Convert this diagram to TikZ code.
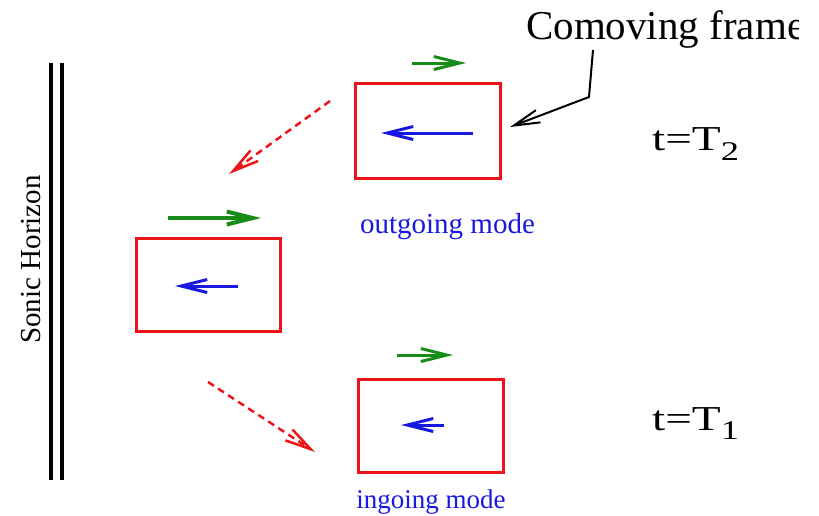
\documentclass[tikz,border=0pt]{standalone}
\usepackage{fontspec}
\setmainfont{Liberation Serif}
\usetikzlibrary{arrows.meta}
\definecolor{figred}{RGB}{236,20,24}
\definecolor{figgreen}{RGB}{24,140,24}
\definecolor{figblue}{RGB}{24,24,225}

\begin{document}
\begin{tikzpicture}[x=1pt,y=-1pt,
  frame/.style={draw=figred, line width=3pt, inner sep=0pt, outer sep=0pt},
  barb/.style={-{Straight Barb[length=26pt,width=13pt]}},
  flow/.style={barb, figgreen, line width=3pt},
  wave/.style={barb, figblue, line width=3pt},
  trajectory/.style={barb, figred, line width=2.5pt, dash pattern=on 7pt off 5pt},
  leader/.style={barb, black, line width=2pt},
  modelabel/.style={text=figblue, anchor=base, inner sep=0pt},
  timelabel/.style={anchor=base west, inner sep=0pt, font=\fontsize{35}{35}\selectfont}
]
\useasboundingbox (0,0) rectangle (819,515);

% sonic horizon: double vertical line
\draw[line width=4pt] (51,63) -- (51,480);
\draw[line width=4pt] (62,63) -- (62,480);
\node[rotate=90, anchor=base, inner sep=0pt, font=\fontsize{29}{29}\selectfont] (horizon) at (40,259.5) {Sonic Horizon};

% comoving frames at the three stages
\node[frame, minimum width=145pt, minimum height=95pt] (late) at (427.5,130.5) {};
\node[frame, minimum width=144pt, minimum height=93pt] (mid) at (208,284.5) {};
\node[frame, minimum width=145pt, minimum height=93pt] (early) at (430.5,425.5) {};

% flow velocity (green) above each frame
\coordinate (gl1) at (412,63);  \coordinate (gl2) at (466,63);
\coordinate (gm1) at (168,218); \coordinate (gm2) at (261,218);
\coordinate (ge1) at (397,355); \coordinate (ge2) at (453,355);
\draw[flow] (gl1) -- (gl2);
\draw[flow, line width=4pt] (gm1) -- (gm2);
\draw[flow] (ge1) -- (ge2);

% mode velocity (blue) inside each frame
\coordinate (bl1) at (473,133); \coordinate (bl2) at (381,133);
\coordinate (bm1) at (238,286); \coordinate (bm2) at (175,286);
\coordinate (be1) at (444,425); \coordinate (be2) at (401,425);
\draw[wave] (bl1) -- (bl2);
\draw[wave] (bm1) -- (bm2);
\draw[wave] (be1) -- (be2);

% trajectory of the frame (red dashed)
\coordinate (ra1) at (330,101); \coordinate (ra2) at (229,174);
\coordinate (rb1) at (208,382); \coordinate (rb2) at (315,452);
\draw[trajectory] (ra1) -- (ra2);
\draw[trajectory] (rb1) -- (rb2);

% labels
\node[modelabel, font=\fontsize{29}{29}\selectfont] (out) at (447.5,233) {outgoing mode};
\node[modelabel, font=\fontsize{27}{27}\selectfont] (in) at (431,508) {ingoing mode};

% the figure is trimmed on the right, cutting the last letter
\begin{scope}
  \clip (0,0) rectangle (798,515);
  \node[anchor=base west, inner sep=0pt, font=\fontsize{41}{41}\selectfont] (cf) at (526,39) {Comoving frame};
\end{scope}
\coordinate (top) at (593,50);
\coordinate (bend) at (589,97);
\coordinate (tip) at (510,127);
\draw[leader] (top) -- (bend) -- (tip);

\node[timelabel] (t2) at (652,150) {\scalebox{1.35}[1]{t=T\raisebox{-10pt}{\fontsize{27}{27}\selectfont 2}}};
\node[timelabel] (t1) at (652,430) {\scalebox{1.35}[1]{t=T\raisebox{-9pt}{\fontsize{27}{27}\selectfont 1}}};
\end{tikzpicture}
\end{document}
